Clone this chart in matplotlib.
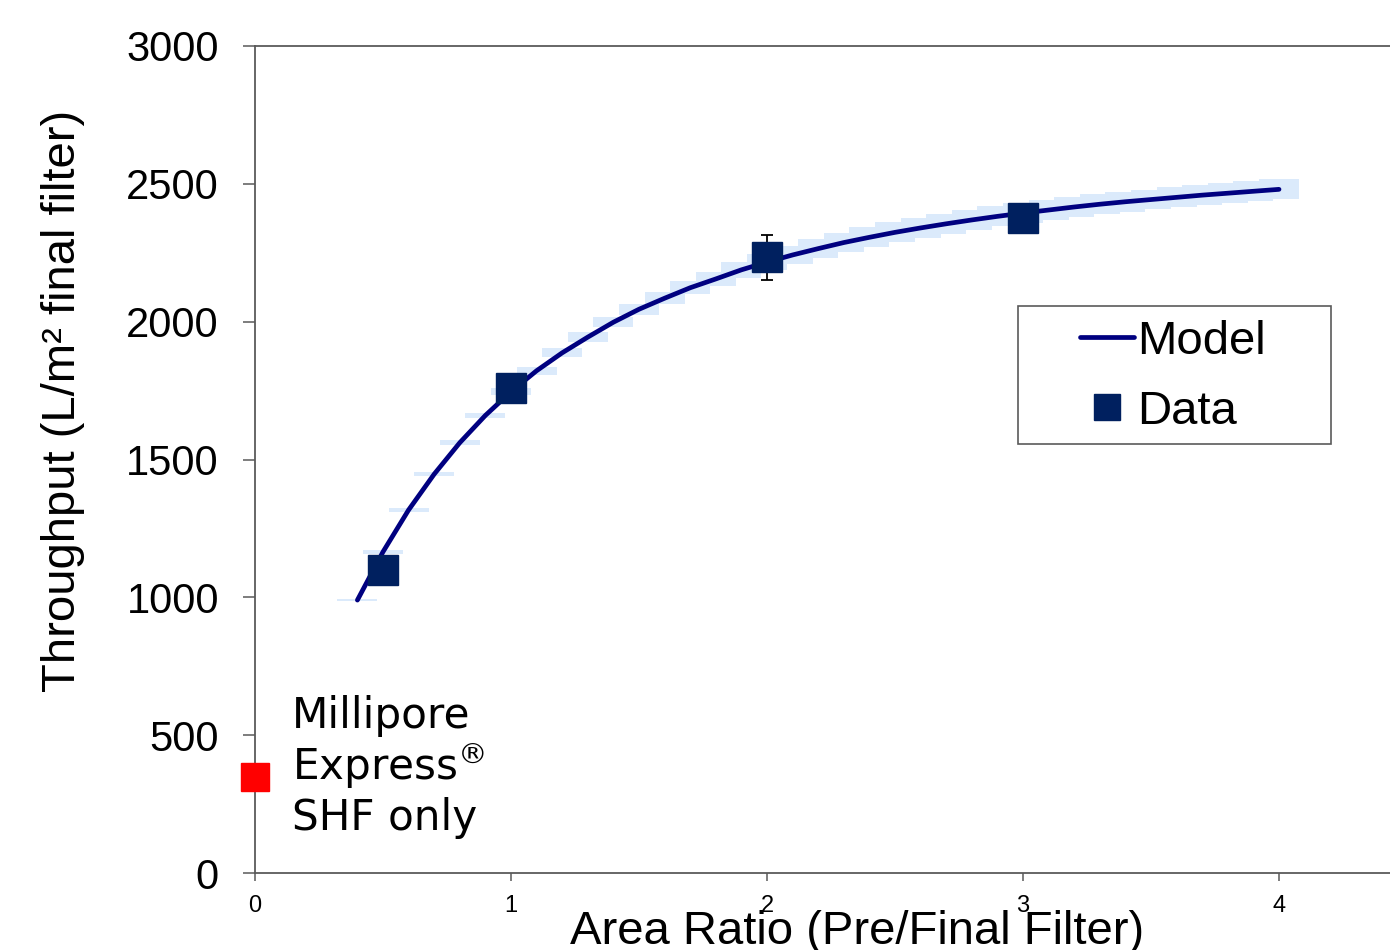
import matplotlib.pyplot as plt
from matplotlib.patches import Rectangle
import numpy as np

# modellkurve (gjennomstrømning mot arealforhold)
model_x = [0.4, 0.5, 0.6, 0.7, 0.8, 0.9, 1.0, 1.1, 1.2, 1.3, 1.4, 1.5, 1.6, 1.7, 1.8, 1.9,
           2.0, 2.1, 2.2, 2.3, 2.4, 2.5, 2.6, 2.7, 2.8, 2.9, 3.0, 3.1, 3.2, 3.3, 3.4, 3.5,
           3.6, 3.7, 3.8, 3.9, 4.0]
model_y = [990, 1165, 1317, 1447, 1561, 1660, 1746, 1822, 1887, 1944, 1998, 2045, 2085, 2123,
           2155, 2188, 2216, 2242, 2265, 2287, 2306, 2324, 2340, 2355, 2369, 2382, 2394, 2405,
           2416, 2426, 2435, 2443, 2451, 2459, 2466, 2473, 2480]
# usikkerhetsbånd rundt modellen (+/-)
band_half = [5, 6, 7, 8, 9, 10, 12, 15, 16, 17, 19, 20, 22, 24, 26, 28,
             30, 32, 34, 35, 36, 36, 36, 36, 36, 36, 36, 36, 36, 36, 36, 36,
             36, 36, 36, 36, 36]

# målinger
data_x = [0.5, 1.0, 2.0, 3.0]
data_y = [1100, 1760, 2233, 2375]
data_err = [0, 0, 82, 0]

# kun sluttfilter
shf_x = [0]
shf_y = [348]
shf_lines = ['Millipore', 'Express$^{®}$', 'SHF only']
shf_line_y = [526, 337, 156]  # grunnlinje for hver tekstlinje

fig = plt.figure(figsize=(13.9, 9.5), dpi=100)
ax = fig.add_axes([0.18345, 0.08105, 0.8472, 0.87053])

mx = np.array(model_x)
my = np.array(model_y)
bh = np.array(band_half)
ax.bar(mx, 2 * bh, bottom=my - bh, width=0.156, color='#dbeafb', zorder=1)

ax.plot(model_x, model_y, color='#000080', lw=3.4, solid_capstyle='round', zorder=3, label='Model')

ax.errorbar(data_x, data_y, yerr=data_err, fmt='none', ecolor='black', elinewidth=1.3,
            capsize=4.5, capthick=1.3, zorder=4)
ax.plot(data_x, data_y, 's', ms=21, color='#00205f', mec='#00205f', zorder=5, label='Data')

ax.plot(shf_x, shf_y, 's', ms=20, color='#ff0000', clip_on=False, zorder=6)
for txt, yy in zip(shf_lines, shf_line_y):
    ax.text(0.145, yy, txt, fontsize=30.3, family='DejaVu Sans', va='baseline', ha='left')

ax.set_xlim(0, 4.6)
ax.set_ylim(0, 3000)
ax.set_xticks([0, 1, 2, 3, 4])
ax.set_yticks([0, 500, 1000, 1500, 2000, 2500, 3000])

for s in ['left', 'bottom', 'top']:
    ax.spines[s].set_color('#5a5a5a')
    ax.spines[s].set_linewidth(1.3)
ax.spines['right'].set_visible(False)

ax.tick_params(axis='y', direction='out', length=9, width=1.1, color='#5a5a5a', pad=17,
               labelsize=30)
ax.tick_params(axis='x', direction='out', length=6, width=1.1, color='#5a5a5a', pad=10,
               labelsize=17)
for lab in ax.get_yticklabels() + ax.get_xticklabels():
    lab.set_family('Liberation Sans')

ax.set_ylabel('Throughput (L/m² final filter)', fontsize=34, family='Liberation Sans')
ax.yaxis.set_label_coords(-0.1445, 0.571)
fig.text(0.6165, 0.006, 'Area Ratio (Pre/Final Filter)', fontsize=34,
         family='Liberation Sans', ha='center', va='baseline')

# legendeboks tegnes for seg
fig.patches.append(Rectangle((1018 / 1390, 1 - 444 / 950), 313 / 1390, 138 / 950,
                             transform=fig.transFigure, fill=False, ec='#5a5a5a', lw=1.2))
leg = ax.legend(loc='upper left', bbox_to_anchor=(1080 / 1390, 1 - 320 / 950),
                bbox_transform=fig.transFigure, borderaxespad=0, frameon=False,
                prop={'family': 'Liberation Sans', 'size': 34}, handlelength=1.15,
                handletextpad=0.06, labelspacing=0.55, borderpad=0, markerscale=0.89)

fig.savefig('out.png', dpi=100)
